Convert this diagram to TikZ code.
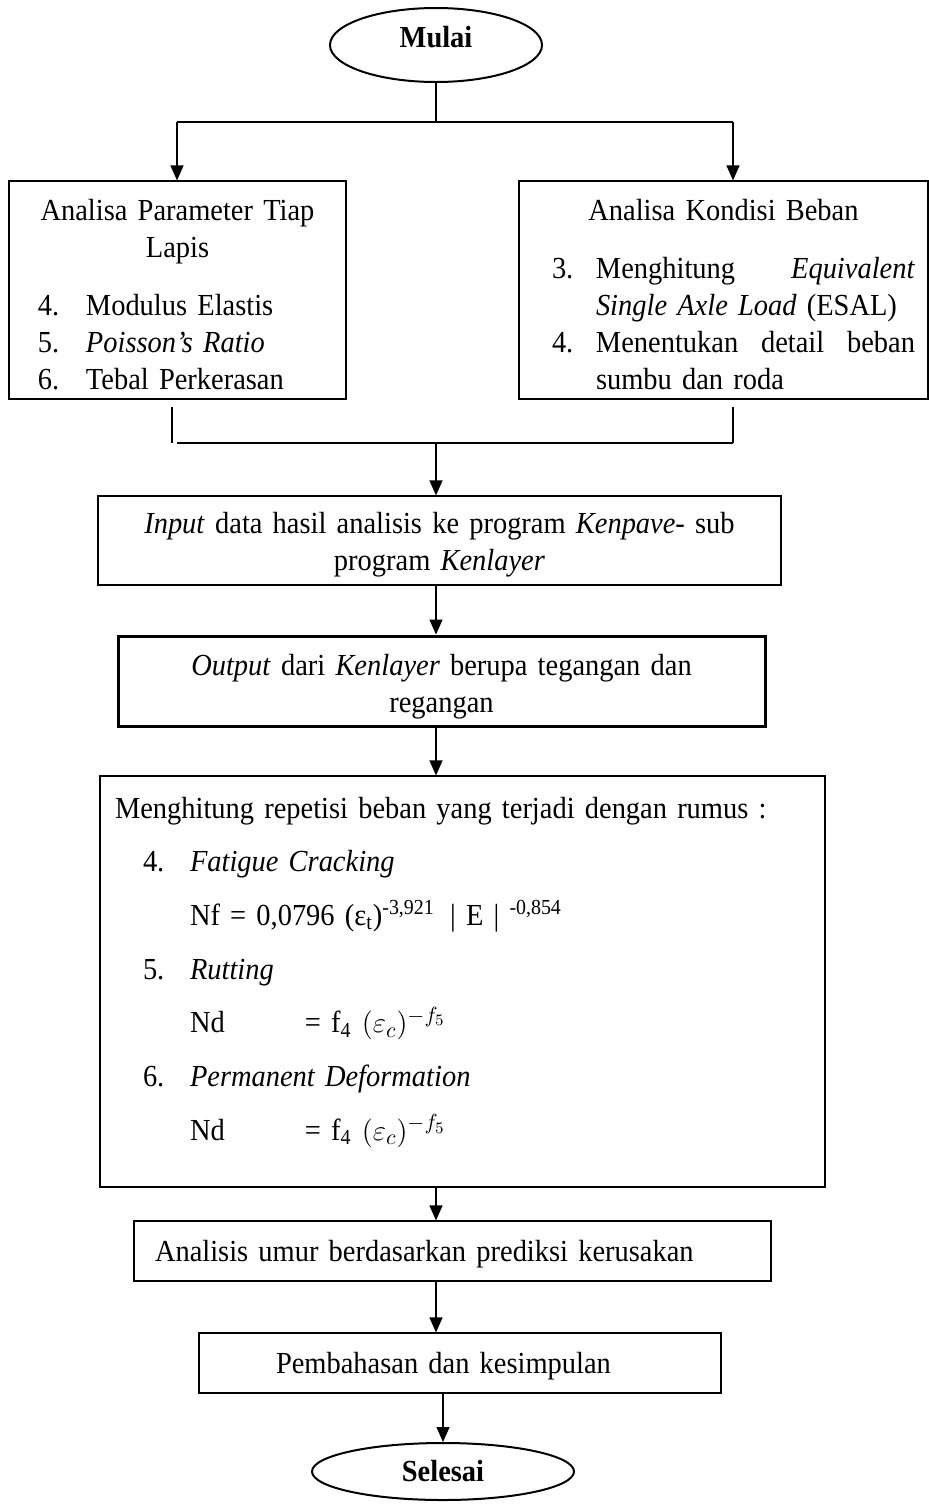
\documentclass[tikz,border=0pt]{standalone}
\usepackage{fontspec}
\setmainfont{Liberation Serif}[FakeStretch=0.93,WordSpace=0.8]
\usetikzlibrary{shapes.geometric,arrows.meta}
\newcommand{\bodyfont}{\fontsize{15.3pt}{18.5pt}\selectfont}
\newcommand{\rumusfont}{\fontsize{15.3pt}{26.85pt}\selectfont}
\newcommand{\itemno}[1]{\makebox[24pt][l]{#1}}

\begin{document}
\begin{tikzpicture}[x=0.5pt,y=-0.5pt,font=\bodyfont,
  box/.style={draw,line width=0.6pt,rectangle,inner ysep=0pt,anchor=base},
  terminal/.style={draw,ellipse,line width=1pt,inner sep=0pt,font=\bodyfont\bfseries},
  arr/.style={-{Triangle[length=7.5pt,width=6.5pt]},line width=0.6pt},
  link/.style={line width=0.6pt}]
\useasboundingbox (0,0) rectangle (929,1506);
% start
\node[terminal,minimum width=106pt,minimum height=37pt,text height=8pt,text depth=6pt] (mulai) at (436,45) {Mulai};
% two analyses
\node[box,text width=139.5pt,inner xsep=14.5pt,text height=19.5pt,text depth=89.5pt,align=left] (param) at (177.5,220) {%
\makebox[\linewidth]{Analisa Parameter Tiap}\\
\makebox[\linewidth]{Lapis}\\[10.5pt]
\itemno{4.}Modulus Elastis\\
\itemno{5.}\textit{Poisson’s Ratio}\\
\itemno{6.}Tebal Perkerasan};
\node[box,text width=171.5pt,inner xsep=16.5pt,text height=19.5pt,text depth=89.5pt,align=left] (beban) at (723.5,220) {%
\rightskip=-10pt\relax
\makebox[\linewidth]{Analisa Kondisi Beban}\\[10.5pt]
\makebox[22pt][l]{3.}\makebox[159.5pt][s]{Menghitung\hfill\textit{Equivalent}}\\
\hspace*{22pt}\textit{Single Axle Load} (ESAL)\\
\makebox[22pt][l]{4.}\makebox[159.5pt][s]{Menentukan\hfill detail\hfill beban}\\
\hspace*{22pt}sumbu dan roda};
% kenpave
\node[box,text width=331.5pt,inner xsep=5pt,text height=18.5pt,text depth=26pt,align=center] (input) at (439.5,533) {\textit{Input} data hasil analisis ke program \textit{Kenpave}- sub\\program \textit{Kenlayer}};
\node[box,line width=1.5pt,text width=313.5pt,inner xsep=5pt,text height=19.5pt,text depth=25.5pt,align=center] (output) at (441.5,675) {\textit{Output} dari \textit{Kenlayer} berupa tegangan dan\\regangan};
% repetisi beban
\node[box,text width=347.5pt,inner xsep=7.5pt,text height=21pt,text depth=184.5pt,align=left,font=\rumusfont] (rumus) at (462.5,818) {%
Menghitung repetisi beban yang terjadi dengan rumus :\\
\hspace*{14pt}\makebox[23.5pt][l]{4.}\textit{Fatigue Cracking}\\
\hspace*{37.5pt}Nf = 0,0796 (ε\textsubscript{t})\textsuperscript{-3,921}\enspace| E |~\textsuperscript{-0,854}\\
\hspace*{14pt}\makebox[23.5pt][l]{5.}\textit{Rutting}\\
\hspace*{37.5pt}\makebox[57.5pt][l]{Nd}= f\textsubscript{4} $(\varepsilon_c)^{-f_5}$\\
\hspace*{14pt}\makebox[23.5pt][l]{6.}\textit{Permanent Deformation}\\
\hspace*{37.5pt}\makebox[57.5pt][l]{Nd}= f\textsubscript{4} $(\varepsilon_c)^{-f_5}$};
\node[box,text width=297.5pt,inner xsep=10.5pt,text height=20pt,text depth=10pt,align=left] (umur) at (452.5,1261) {Analisis umur berdasarkan prediksi kerusakan};
\node[box,text width=184pt,inner xsep=38.5pt,text height=20pt,text depth=10pt,align=left] (bahas) at (460,1373) {Pembahasan dan kesimpulan};
% end
\node[terminal,minimum width=131pt,minimum height=28.5pt] (selesai) at (443,1471.5) {Selesai};
% split and merge
\coordinate (split) at (436,122);
\coordinate (splitL) at (177,122);
\coordinate (splitR) at (733,122);
\coordinate (joinL) at (172,407);
\coordinate (joinR) at (733,407);
\coordinate (mergeL) at (177,443);
\coordinate (mergeR) at (733,443);
\coordinate (spine) at (436,443);
\draw[link] (mulai) -- (split);
\draw[link] (splitL) -- (splitR);
\draw[arr] (splitL) -- (splitL |- param.north);
\draw[arr] (splitR) -- (splitR |- beban.north);
\draw[link] (joinL) -- (joinL |- mergeL);
\draw[link] (joinR) -- (mergeR);
\draw[link] (mergeL) -- (mergeR);
% main line
\draw[arr] (spine) -- (spine |- input.north);
\draw[arr] (spine |- input.south) -- (spine |- output.north);
\draw[arr] (spine |- output.south) -- (spine |- rumus.north);
\draw[arr] (spine |- rumus.south) -- (spine |- umur.north);
\draw[arr] (spine |- umur.south) -- (spine |- bahas.north);
\draw[arr] (selesai |- bahas.south) -- (selesai);
\end{tikzpicture}
\end{document}
